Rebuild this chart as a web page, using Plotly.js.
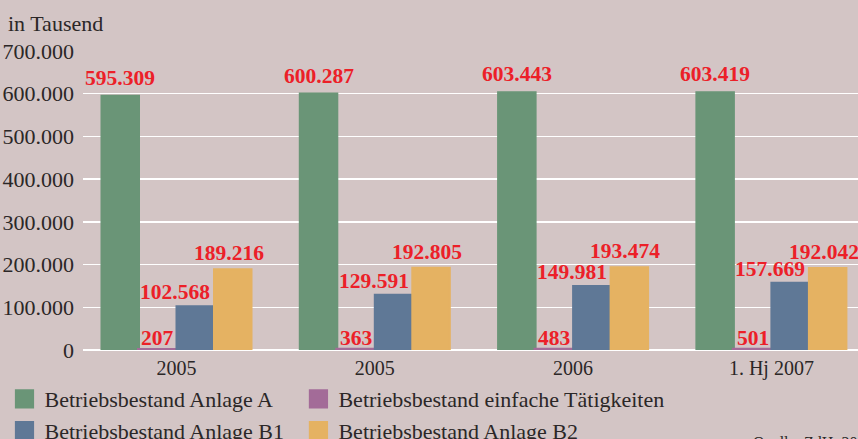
<!DOCTYPE html>
<html>
<head>
<meta charset="utf-8">
<script src="https://cdn.plot.ly/plotly-3.0.1.min.js"></script>
<style>html,body{margin:0;padding:0;background:#d3c5c5;}#chart{width:858px;height:439px;}</style>
</head>
<body>
<div id="chart"></div>
<script>
// ---- data ----
const categories = ['2005', '2005', '2006', '1. Hj 2007'];
const anlageA   = [595309, 600287, 603443, 603419];
const einfache  = [207, 363, 483, 501];
const anlageB1  = [102568, 129591, 149981, 157669];
const anlageB2  = [189216, 192805, 193474, 192042];
const seriesNames = ['Betriebsbestand Anlage A', 'Betriebsbestand einfache Tätigkeiten',
                     'Betriebsbestand Anlage B1', 'Betriebsbestand Anlage B2'];
const yTitle = 'in Tausend';
const sourceText = 'Quelle: ZdH, 2007';

// ---- style ----
const colors = ['#6a9577', '#a36b98', '#5f7896', '#e5b262'];
const outlineWidth = [2, 4, 2, 2];
const labelXShift = [0, 0, -20, -4];
const labelYShift = [3, -3, -1, 1];
const legendOf = ['legend', 'legend2', 'legend', 'legend2'];
const bargap = 0.2435;
const serif = 'Liberation Serif, Times New Roman, serif';
const textColor = '#2b2727';

const series = [anlageA, einfache, anlageB1, anlageB2];
const xIdx = categories.map((_, i) => i);
const fmt = v => String(v).replace(/\B(?=(\d{3})+(?!\d))/g, '.');

const traces = series.map((vals, k) => ({
  type: 'bar',
  x: xIdx,
  y: vals,
  name: seriesNames[k],
  legend: legendOf[k],
  cliponaxis: false,
  marker: {color: colors[k], line: {width: outlineWidth[k], color: colors[k]}},
  hoverinfo: 'none'
}));

const w = (1 - bargap) / series.length;
const annotations = [];
series.forEach((vals, k) => {
  vals.forEach((v, i) => {
    annotations.push({
      xref: 'x', yref: 'y',
      x: i + (k - (series.length - 1) / 2) * w,
      y: v,
      text: fmt(v),
      showarrow: false,
      xanchor: 'center', yanchor: 'bottom',
      xshift: labelXShift[k], yshift: labelYShift[k] + 1,
      font: {family: serif, size: 21.5, color: '#ec2028', weight: 'bold'}
    });
  });
});
annotations.push({
  xref: 'paper', yref: 'paper', x: -0.0994, y: 1.0936,
  xanchor: 'left', yanchor: 'middle', showarrow: false,
  text: yTitle, font: {family: serif, size: 22, color: textColor}
});
annotations.push({
  xref: 'paper', yref: 'paper', x: 0.862, y: -0.275,
  xanchor: 'left', yanchor: 'top', showarrow: false,
  text: sourceText, font: {family: serif, size: 16, color: textColor}
});

const legendCommon = {
  orientation: 'v', xanchor: 'left', yanchor: 'top',
  bgcolor: 'rgba(0,0,0,0)', borderwidth: 0,
  font: {family: serif, size: 22, color: textColor},
  itemclick: false, itemdoubleclick: false
};

const layout = {
  width: 858, height: 439,
  paper_bgcolor: '#d3c5c5', plot_bgcolor: '#d3c5c5',
  margin: {l: 83, r: 0, t: 51, b: 89, pad: 0, autoexpand: false},
  separators: ',.',
  barmode: 'group', bargap: bargap, bargroupgap: 0,
  showlegend: true,
  legend: Object.assign({}, legendCommon, {x: -0.1013, y: -0.094}),
  legend2: Object.assign({}, legendCommon, {x: 0.278, y: -0.094}),
  xaxis: {
    range: [-0.4715, 3.4367], tickvals: xIdx, ticktext: categories,
    showgrid: false, zeroline: false, showline: false, ticks: '',
    ticklabelstandoff: 4,
    tickfont: {family: serif, size: 20, color: textColor},
    fixedrange: true
  },
  yaxis: {
    range: [0, 700000], tick0: 0, dtick: 100000, tickformat: ',d',
    gridcolor: '#ffffff', gridwidth: 1.5,
    zeroline: true, zerolinecolor: '#ffffff', zerolinewidth: 1.5,
    zerolinelayer: 'below traces',
    showline: false, ticks: '', ticklabelstandoff: 8,
    tickfont: {family: serif, size: 22, color: textColor},
    fixedrange: true
  },
  annotations: annotations
};

Plotly.newPlot('chart', traces, layout, {staticPlot: true, displayModeBar: false}).then(() => {
  document.querySelectorAll('.legendpoints path').forEach(p => {
    const t = p.getAttribute('transform') || '';
    p.setAttribute('transform', (t + ' scale(1.6)').trim());
    p.style.strokeWidth = '0px';
  });
});
</script>
</body>
</html>
